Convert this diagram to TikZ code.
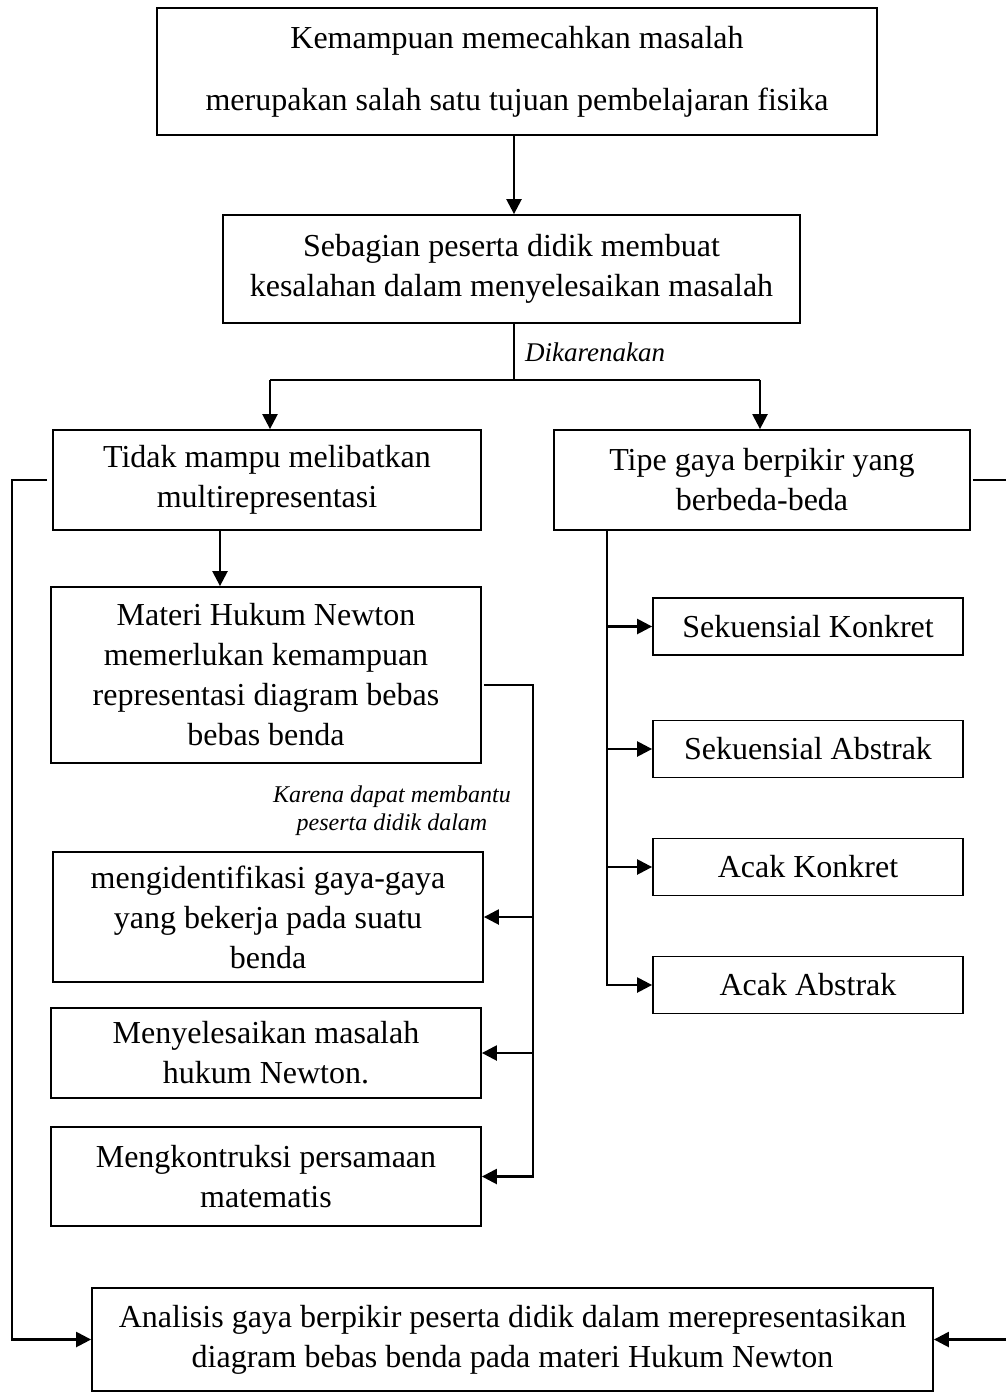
\documentclass[tikz,border=0pt]{standalone}
\usepackage{fontspec}
\setmainfont{Liberation Serif}
\usetikzlibrary{arrows.meta}
\begin{document}
\begin{tikzpicture}[x=1pt,y=-1pt,
  box/.style={draw, line width=1.8pt, inner sep=0pt, align=center, font=\fontsize{32}{40}\selectfont},
  conn/.style={line width=2.4pt},
  arr/.style={conn, -{Triangle[length=15pt,width=15pt]}},
  lbl/.style={font=\fontsize{24}{28}\selectfont\itshape, inner sep=0pt, align=center}]
\useasboundingbox (0,0) rectangle (1006,1392);
\clip (0,0) rectangle (1006,1392);
% boxes
\node[box, minimum width=720pt, minimum height=127pt] (b1) at (517,71.5)
  {Kemampuan memecahkan masalah\\[22pt]merupakan salah satu tujuan pembelajaran fisika};
\node[box, minimum width=577pt, minimum height=108pt] (b2) at (511.5,269)
  {Sebagian peserta didik membuat\\kesalahan dalam menyelesaikan masalah};
\node[box, minimum width=428pt, minimum height=100pt] (b3) at (267,480)
  {Tidak mampu melibatkan\\multirepresentasi};
\node[box, minimum width=416pt, minimum height=100pt] (b4) at (762,480)
  {Tipe gaya berpikir yang\\berbeda-beda};
\node[box, minimum width=430pt, minimum height=176pt] (b5) at (266,675)
  {Materi Hukum Newton\\memerlukan kemampuan\\representasi diagram bebas\\bebas benda};
\node[box, minimum width=430pt, minimum height=130pt] (b8) at (268,917)
  {mengidentifikasi gaya-gaya\\yang bekerja pada suatu\\benda};
\node[box, minimum width=430pt, minimum height=90pt] (b9) at (266,1053)
  {Menyelesaikan masalah\\hukum Newton.};
\node[box, minimum width=430pt, minimum height=99pt] (b10) at (266,1176.5)
  {Mengkontruksi persamaan\\matematis};
\node[box, minimum width=310pt, minimum height=57pt] (b11) at (808,626.5) {Sekuensial Konkret};
\node[box, minimum width=310pt, minimum height=57pt] (b12) at (808,749) {Sekuensial Abstrak};
\node[box, minimum width=310pt, minimum height=57pt] (b13) at (808,867) {Acak Konkret};
\node[box, minimum width=310pt, minimum height=57pt] (b14) at (808,985) {Acak Abstrak};
\node[box, minimum width=841pt, minimum height=103pt] (b7) at (512.5,1339.5)
  {Analisis gaya berpikir peserta didik dalam merepresentasikan\\diagram bebas benda pada materi Hukum Newton};
% labels
\node[lbl, anchor=west, font=\fontsize{27}{30}\selectfont\itshape] (dk) at (525,352) {Dikarenakan};
\node[lbl] (kr) at (392,811) {Karena dapat membantu\\peserta didik dalam};
% helper coordinates
\coordinate (c1) at (514,0);
\coordinate (c2) at (514,380);
\coordinate (jL) at (270,380);
\coordinate (jR) at (760,380);
\coordinate (m1) at (220,0);
\coordinate (r0) at (533,685);
\coordinate (v0) at (607,0);
\coordinate (L0) at (12,0);
\coordinate (R0) at (1016,0);
% connectors
\draw[arr] (b1.south -| c1) -- (b2.north -| c1);
\draw[conn] (b2.south -| c2) -- (c2);
\draw[conn] (jL) -- (jR);
\draw[arr] (jL) -- (b3.north -| jL);
\draw[arr] (jR) -- (b4.north -| jR);
\draw[arr] (b3.south -| m1) -- (b5.north -| m1);
\draw[arr] ([xshift=2pt]b5.east |- r0) -- (r0) |- (b10.east);
\draw[arr] (r0 |- b8.east) -- (b8.east);
\draw[arr] (r0 |- b9.east) -- (b9.east);
\draw[arr] (b4.south -| v0) |- (b14.west);
\draw[arr] (v0 |- b11.west) -- (b11.west);
\draw[arr] (v0 |- b12.west) -- (b12.west);
\draw[arr] (v0 |- b13.west) -- (b13.west);
\draw[arr] ([xshift=-5pt]b3.west) -| (L0 |- b7.west) -- (b7.west);
\draw[arr] ([xshift=2pt]b4.east) -| (R0 |- b7.east) -- (b7.east);
\end{tikzpicture}
\end{document}
